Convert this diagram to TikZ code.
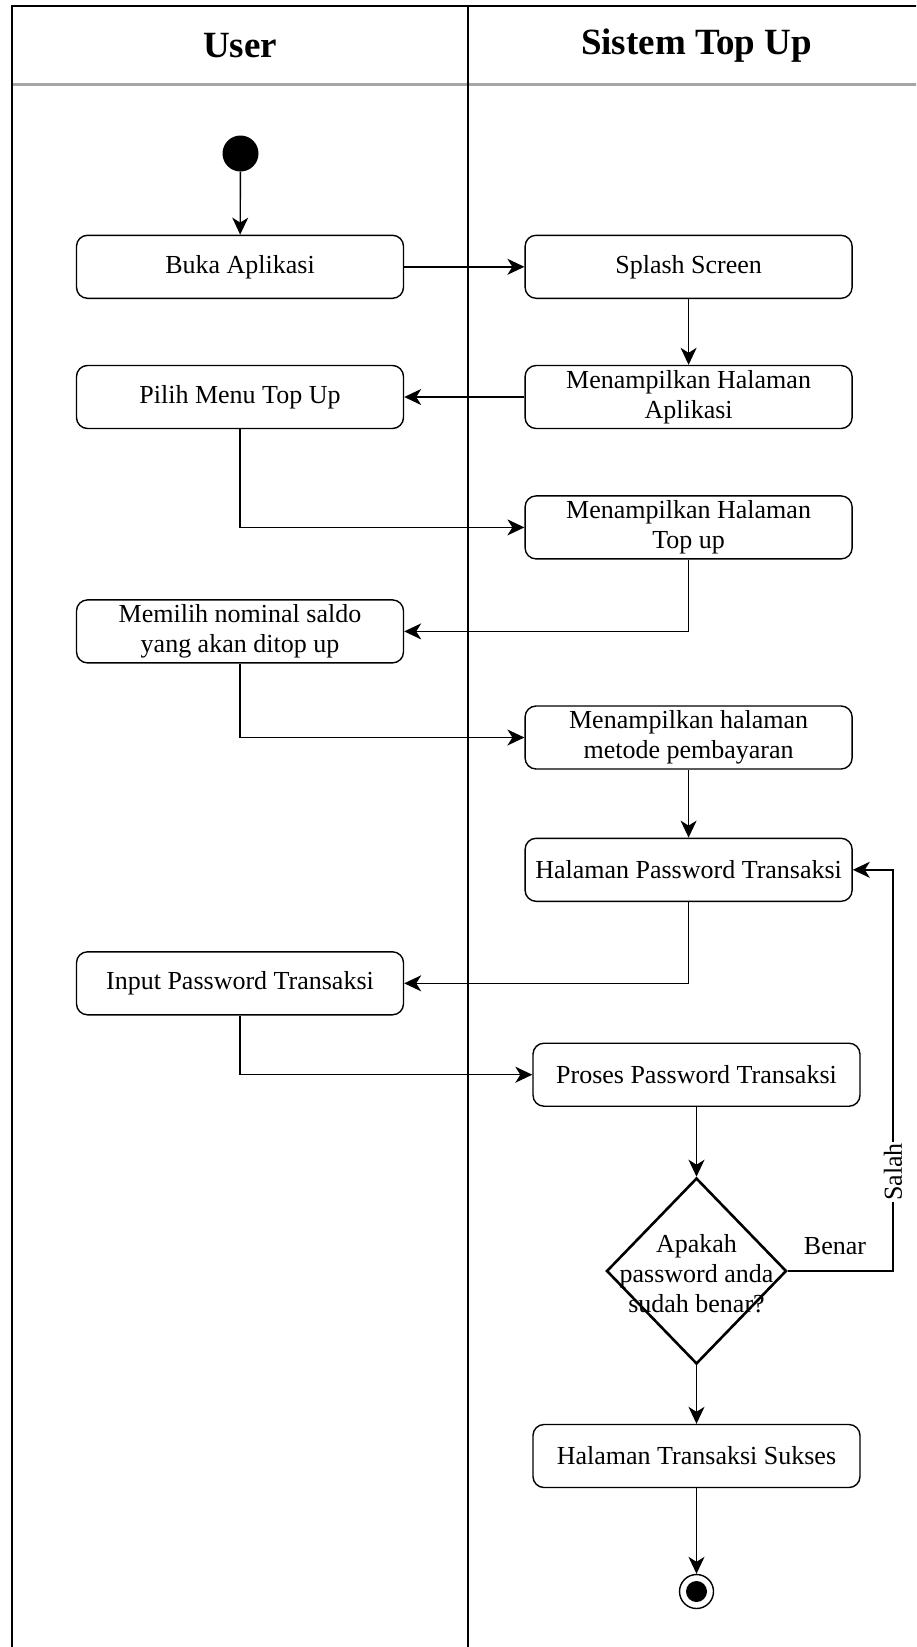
\documentclass[tikz,border=0pt]{standalone}
\usepackage{fontspec}
\setmainfont{Liberation Serif}
\usetikzlibrary{arrows.meta,shapes.geometric}

\begin{document}
\begin{tikzpicture}[x=1pt,y=-1pt,
  act/.style={draw, line width=1.4pt, rounded corners=11pt, minimum width=327pt,
    minimum height=63pt, align=center, inner sep=0pt,
    font=\fontsize{26}{30.5}\selectfont},
  flow/.style={draw, line width=1.4pt, -{Stealth[length=17pt,width=16pt,inset=5pt]}},
  lane/.style={draw, line width=1.4pt},
  head/.style={font=\bfseries\fontsize{37}{40}\selectfont},
  lbl/.style={font=\fontsize{26}{30}\selectfont, inner sep=1pt}
]
\useasboundingbox (0,0) rectangle (916,1647);
\clip (0,0) rectangle (916,1647);

% swimlanes
\draw[gray!70, line width=3pt] (12,84) -- (940,84);
\draw[lane] (12,1680) -- (12,6) -- (940,6);
\draw[lane] (468,6) -- (468,1680);
\node[head] (hUser) at (240,46) {User};
\node[head] (hSys) at (696.5,46) {Sistem Top Up};

% activities
\node[circle, fill=black, minimum size=36pt, inner sep=0pt] (start) at (240.5,153.5) {};
\node[act] (buka) at (240,266.8) {Buka Aplikasi};
\node[act] (splash) at (688.6,266.8) {Splash Screen};
\node[act] (pilih) at (240,397) {Pilih Menu Top Up};
\node[act] (menHal) at (688.6,397) {Menampilkan Halaman\\Aplikasi};
\node[act] (menTop) at (688.6,527.4) {Menampilkan Halaman\\Top up};
\node[act] (memilih) at (240,631.4) {Memilih nominal saldo\\yang akan ditop up};
\node[act] (metode) at (688.6,737.5) {Menampilkan halaman\\metode pembayaran};
\node[act] (hpass) at (688.6,869.8) {Halaman Password Transaksi};
\node[act] (input) at (240,983.3) {Input Password Transaksi};
\node[act] (proses) at (696.5,1074.7) {Proses Password Transaksi};
\node[diamond, draw, line width=2.6pt, minimum width=180pt, minimum height=186pt,
  inner sep=0pt] (dec) at (696.5,1271) {};
\node[lbl, align=center] (decText) at (696.5,1274) {Apakah\\password anda\\sudah benar?};
\node[act] (sukses) at (696.5,1456) {Halaman Transaksi Sukses};
\node[circle, draw, line width=1.4pt, minimum size=34pt, inner sep=0pt] (stop) at (696.5,1591.5) {};
\node[circle, fill=black, minimum size=21pt, inner sep=0pt] (stopIn) at (696.5,1591.5) {};

% control flow
\draw[flow] (start) -- (buka);
\draw[flow] (buka.east) -- (splash.west);
\draw[flow] (splash.south) -- (menHal.north);
\draw[flow] (menHal.west) -- (pilih.east);
\draw[flow] (pilih.south) |- (menTop.west);
\draw[flow] (menTop.south) |- (memilih.east);
\draw[flow] (memilih.south) |- (metode.west);
\draw[flow] (metode.south) -- (hpass.north);
\draw[flow] (hpass.south) |- (input.east);
\draw[flow] (input.south) |- (proses.west);
\draw[flow] (proses.south) -- (dec.north);
\coordinate (loop) at (893,1271);
\draw[flow] (dec.east) -- (loop) |- (hpass.east);
\node[lbl, fill=white, rotate=90] (salah) at (893,1172) {Salah};
\node[lbl] (benar) at (835,1246) {Benar};
\draw[flow] (dec.south) -- (sukses.north);
\draw[flow] (sukses.south) -- (stop.north);
\end{tikzpicture}
\end{document}
